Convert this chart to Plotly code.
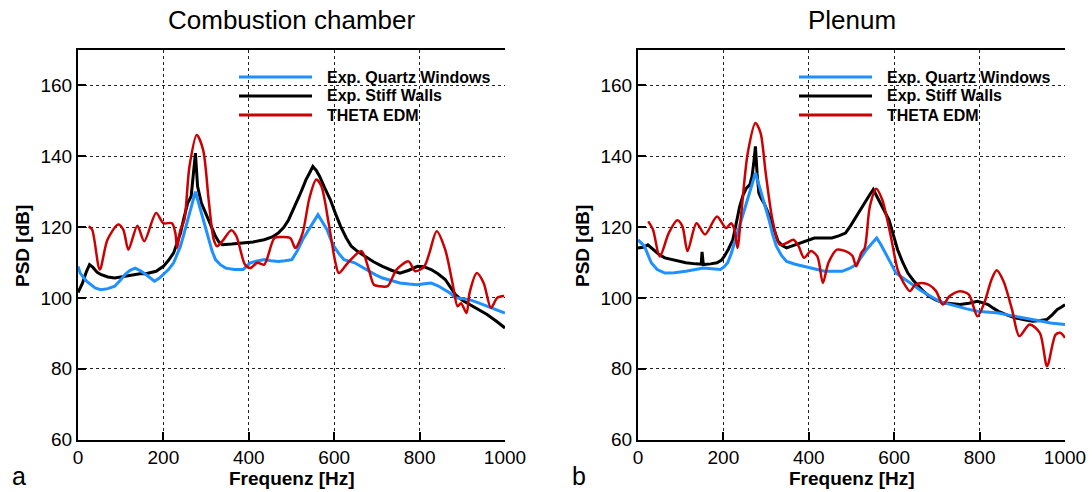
import plotly.graph_objects as go

# ---------------- data ----------------
# Left panel: Combustion chamber
cc_stiff_f = [0, 10, 20, 27, 35, 45, 53, 70, 86, 105, 126, 145, 159, 172, 183, 200, 212, 224, 232, 240,
              248, 257, 265, 271, 275, 280, 289, 297, 306, 314, 322, 330, 338, 360, 387, 410, 436, 455,
              469, 482, 493, 505, 518, 526, 534, 542, 550, 558, 566, 578, 591, 603, 615, 628, 640, 656,
              672, 692, 713, 734, 754, 775, 795, 810, 827, 843, 860, 872, 884, 900, 917, 938, 958, 980,
              1000]
cc_stiff_db = [101.5, 104.0, 107.5, 109.4, 108.6, 107.2, 106.6, 105.9, 105.6, 106.0, 106.6, 106.8, 106.8,
               107.1, 107.5, 108.9, 110.6, 112.7, 115.3, 118.3, 122.5, 126.8, 128.7, 137.0, 140.9, 131.5,
               126.8, 124.5, 122.0, 119.6, 117.4, 115.8, 115.0, 115.2, 115.5, 115.8, 116.4, 117.2, 118.3,
               119.9, 122.0, 125.0, 128.7, 131.0, 133.4, 135.2, 137.1, 136.0, 134.3, 131.0, 127.7, 123.8,
               120.2, 117.0, 114.6, 113.0, 111.7, 110.2, 108.9, 107.8, 107.0, 107.8, 108.9, 108.8, 108.0,
               106.8, 105.2, 103.2, 100.9, 99.3, 98.1, 96.7, 95.3, 93.4, 91.5]

cc_quartz_f = [0, 5, 20, 40, 53, 70, 86, 98, 110, 122, 134, 147, 159, 170, 179, 190, 200, 212, 224, 232,
               240, 248, 257, 266, 275, 282, 289, 297, 306, 314, 322, 334, 346, 366, 387, 403, 420, 436,
               452, 469, 485, 501, 514, 526, 538, 550, 562, 572, 583, 591, 599, 611, 623, 636, 648, 665,
               681, 697, 713, 734, 754, 775, 795, 811, 827, 843, 860, 872, 884, 900, 917, 938, 958, 980,
               1000]
cc_quartz_db = [108.9, 107.0, 104.7, 102.8, 102.3, 102.6, 103.3, 104.8, 106.6, 107.8, 108.4, 107.6, 106.6,
                105.5, 104.7, 105.5, 106.6, 108.0, 109.9, 112.0, 114.6, 118.0, 122.0, 126.0, 130.0, 127.0,
                124.0, 120.0, 116.4, 113.2, 110.8, 109.3, 108.4, 108.0, 108.0, 109.9, 110.4, 110.8, 110.5,
                110.3, 110.5, 110.8, 113.4, 116.4, 118.8, 121.1, 123.5, 121.5, 119.3, 116.8, 114.6, 112.5,
                110.8, 110.3, 109.9, 108.7, 107.5, 106.5, 105.6, 104.8, 104.2, 103.9, 103.7, 104.0, 104.2,
                103.4, 102.3, 101.3, 100.0, 99.7, 99.5, 98.6, 97.6, 96.7, 95.7]

cc_theta_f = [25, 33, 51, 69, 94, 106, 118, 139, 155, 183, 200, 220, 228, 232, 240, 249, 261, 278, 293,
              306, 318, 326, 338, 359, 371, 391, 403, 420, 436, 460, 477, 497, 509, 526, 542, 558, 570,
              587, 603, 611, 632, 664, 681, 693, 705, 725, 746, 774, 790, 811, 823, 840, 860, 877, 889,
              897, 910, 917, 934, 950, 967, 982, 998]
cc_theta_db = [120.2, 119.3, 108.0, 116.4, 120.7, 119.3, 113.6, 120.4, 116.0, 124.0, 121.1, 121.1, 118.3,
               114.1, 119.3, 122.0, 137.1, 146.0, 141.8, 127.7, 116.4, 114.6, 116.0, 119.1, 117.4, 109.4,
               108.4, 109.9, 109.4, 116.9, 117.2, 116.9, 114.1, 118.3, 128.2, 133.4, 131.5, 121.1, 109.9,
               107.0, 109.9, 113.2, 108.0, 103.7, 103.3, 103.3, 108.0, 110.3, 107.5, 108.9, 112.7, 118.8,
               113.6, 104.2, 97.6, 98.5, 95.7, 101.4, 107.0, 104.2, 97.2, 100.0, 100.5]

# Right panel: Plenum
pl_stiff_f = [0, 12, 23, 31, 39, 50, 63, 85, 112, 135, 148, 150, 153, 170, 185, 195, 202, 212, 222, 230,
              238, 246, 254, 262, 267, 271, 275, 279, 283, 289, 295, 303, 311, 320, 328, 338, 348, 364,
              380, 396, 413, 434, 454, 470, 486, 498, 511, 523, 535, 543, 551, 559, 567, 577, 588, 598,
              608, 620, 632, 645, 657, 669, 681, 697, 714, 734, 754, 775, 795, 808, 820, 832, 844, 865,
              885, 905, 925, 942, 958, 970, 982, 992, 1000]
pl_stiff_db = [114.1, 114.3, 115.0, 114.2, 113.2, 112.2, 111.3, 110.6, 109.9, 109.6, 109.5, 113.0, 109.4,
               109.6, 109.9, 110.6, 111.7, 113.8, 116.4, 121.0, 125.8, 129.0, 131.0, 132.0, 134.3, 138.0,
               142.8, 135.0, 129.6, 128.0, 126.8, 124.5, 122.0, 118.8, 116.0, 114.8, 114.1, 114.8, 115.5,
               116.2, 116.9, 116.9, 116.9, 117.5, 118.3, 120.4, 123.0, 125.5, 127.7, 129.2, 130.6, 128.8,
               126.8, 124.4, 122.0, 117.8, 113.6, 110.0, 107.0, 104.9, 103.3, 101.8, 100.5, 99.4, 98.6,
               98.3, 98.1, 98.5, 99.0, 98.6, 98.1, 97.1, 96.2, 95.1, 94.3, 93.8, 93.4, 93.6, 93.9, 95.2,
               96.7, 97.4, 98.1]

pl_quartz_f = [0, 15, 31, 45, 63, 85, 112, 133, 153, 173, 193, 202, 210, 218, 226, 234, 242, 250, 259,
               267, 275, 283, 291, 299, 307, 315, 324, 336, 348, 368, 389, 413, 437, 458, 478, 495, 511,
               523, 535, 547, 559, 569, 580, 592, 604, 618, 632, 648, 665, 686, 706, 726, 746, 770, 795,
               820, 844, 865, 885, 905, 925, 946, 966, 985, 1000]
pl_quartz_db = [116.4, 114.6, 109.9, 108.0, 107.0, 107.1, 107.5, 108.0, 108.4, 108.2, 108.0, 108.8, 109.9,
                112.4, 115.5, 118.8, 122.0, 125.4, 128.7, 132.0, 135.3, 132.0, 128.7, 125.4, 122.0, 118.0,
                114.6, 112.0, 110.3, 109.5, 108.9, 108.2, 107.5, 107.5, 107.5, 108.3, 109.4, 111.5, 113.6,
                115.3, 116.9, 115.0, 112.7, 109.8, 107.0, 105.8, 104.7, 103.3, 101.9, 100.4, 99.0, 98.3,
                97.6, 96.9, 96.2, 96.0, 95.7, 95.2, 94.8, 94.3, 93.9, 93.4, 92.9, 92.7, 92.5]

pl_theta_f = [24, 35, 51, 72, 92, 104, 116, 137, 157, 185, 206, 218, 226, 233, 242, 257, 275, 287, 299,
              315, 332, 348, 364, 376, 389, 405, 420, 433, 446, 466, 486, 502, 511, 523, 531, 543, 558,
              572, 592, 608, 620, 637, 649, 665, 681, 698, 714, 730, 754, 775, 795, 811, 828, 840, 856,
              876, 893, 917, 941, 958, 978, 990, 1000]
pl_theta_db = [121.6, 119.3, 111.7, 118.3, 121.9, 120.2, 113.2, 121.1, 117.9, 123.0, 119.7, 121.1, 119.3,
               114.1, 124.0, 140.9, 149.4, 146.6, 135.3, 122.0, 115.0, 115.5, 116.4, 114.6, 111.3, 113.2,
               111.7, 104.2, 109.9, 113.6, 113.2, 111.9, 108.9, 112.7, 114.1, 125.8, 130.8, 127.7, 117.4,
               108.0, 104.7, 101.9, 103.7, 104.2, 103.7, 101.9, 98.1, 100.5, 101.9, 100.9, 94.8, 98.6,
               105.2, 107.8, 104.7, 96.7, 89.2, 92.5, 90.1, 80.7, 89.6, 90.1, 88.7]

series_names = ["Exp. Quartz Windows", "Exp. Stiff Walls", "THETA EDM"]
panel_titles = ["Combustion chamber", "Plenum"]
panel_letters = ["a", "b"]
x_title = "Frequenz [Hz]"
y_title = "PSD [dB]"
x_ticks = [0, 200, 400, 600, 800, 1000]
y_ticks = [60, 80, 100, 120, 140, 160]

# ---------------- styling ----------------
BLUE = "#1E90FF"
BLACK = "#000000"
RED = "#CC0000"
series_colors = [BLUE, BLACK, RED]
FONT = "Liberation Sans, Arial, sans-serif"

W, H = 1092, 492
px = lambda v: v / W
py = lambda v: 1 - v / H

x_doms = [[px(78), px(505)], [px(638), px(1065)]]
y_dom = [py(439.5), py(50)]
panel_offset = [0, 560]

fig = go.Figure()

panels = [
    (cc_quartz_f, cc_quartz_db, cc_stiff_f, cc_stiff_db, cc_theta_f, cc_theta_db),
    (pl_quartz_f, pl_quartz_db, pl_stiff_f, pl_stiff_db, pl_theta_f, pl_theta_db),
]

for i, (qf, qd, sf, sd, tf, td) in enumerate(panels):
    xa = "x" if i == 0 else "x2"
    ya = "y" if i == 0 else "y2"
    fig.add_trace(go.Scatter(x=sf, y=sd, mode="lines", name=series_names[1], xaxis=xa, yaxis=ya,
                             line=dict(color=BLACK, width=3), showlegend=False))
    fig.add_trace(go.Scatter(x=qf, y=qd, mode="lines", name=series_names[0], xaxis=xa, yaxis=ya,
                             line=dict(color=BLUE, width=3), showlegend=False))
    fig.add_trace(go.Scatter(x=tf, y=td, mode="lines", name=series_names[2], xaxis=xa, yaxis=ya,
                             line=dict(color=RED, width=2.5, shape="spline", smoothing=0.8),
                             showlegend=False))

axis_common = dict(
    showline=True, linecolor="black", linewidth=2,
    ticks="inside", ticklen=8, tickwidth=2, tickcolor="black",
    showgrid=True, gridcolor="#222222", gridwidth=1, griddash="dot",
    zeroline=False, automargin=False,
    tickfont=dict(family=FONT, size=19, color="black"),
)

for i in range(2):
    sfx = "" if i == 0 else "2"
    fig.layout["xaxis" + sfx] = dict(
        axis_common, domain=x_doms[i], range=[0, 1000], tickvals=x_ticks, mirror=True,
        anchor="y" + sfx,
    )
    fig.layout["yaxis" + sfx] = dict(
        axis_common, domain=y_dom, range=[60, 170], tickvals=y_ticks,
        anchor="x" + sfx,
    )

# ---- legends (white box over the grid, line samples and bold labels) ----
legend_rows_y = [77, 96, 115]
for i in range(2):
    o = panel_offset[i]
    fig.add_shape(type="rect", xref="paper", yref="paper", layer="between",
                  x0=px(233 + o), x1=px(497 + o), y0=py(130), y1=py(56),
                  fillcolor="white", line=dict(width=0))
    for k in range(3):
        yk = legend_rows_y[k]
        fig.add_shape(type="line", xref="paper", yref="paper", layer="above",
                      x0=px(239 + o), x1=px(312 + o), y0=py(yk), y1=py(yk),
                      line=dict(color=series_colors[k], width=3))
        fig.add_annotation(text="<b>%s</b>" % series_names[k], xref="paper", yref="paper",
                           x=px(325 + o), y=py(yk), xanchor="left", yanchor="middle",
                           showarrow=False, font=dict(family=FONT, size=16, color="black"))

# ---- titles, axis titles, panel letters ----
for i in range(2):
    o = panel_offset[i]
    cx = (x_doms[i][0] + x_doms[i][1]) / 2
    fig.add_annotation(text=panel_titles[i], xref="paper", yref="paper", x=cx, y=py(20),
                       xanchor="center", yanchor="middle", showarrow=False,
                       font=dict(family=FONT, size=26, color="black"))
    fig.add_annotation(text="<b>%s</b>" % x_title, xref="paper", yref="paper", x=cx, y=py(478),
                       xanchor="center", yanchor="middle", showarrow=False,
                       font=dict(family=FONT, size=19, color="black"))
    fig.add_annotation(text="<b>%s</b>" % y_title, xref="paper", yref="paper", x=px(22 + o),
                       y=py(246), xanchor="center", yanchor="middle", textangle=-90,
                       showarrow=False, font=dict(family=FONT, size=19, color="black"))
    fig.add_annotation(text=panel_letters[i], xref="paper", yref="paper", x=px(19 + o), y=py(476),
                       xanchor="center", yanchor="middle", showarrow=False,
                       font=dict(family=FONT, size=25, color="black"))

fig.update_layout(
    width=W, height=H, margin=dict(l=0, r=0, t=0, b=0),
    paper_bgcolor="white", plot_bgcolor="white", showlegend=False,
)

fig.write_html("out.html")
